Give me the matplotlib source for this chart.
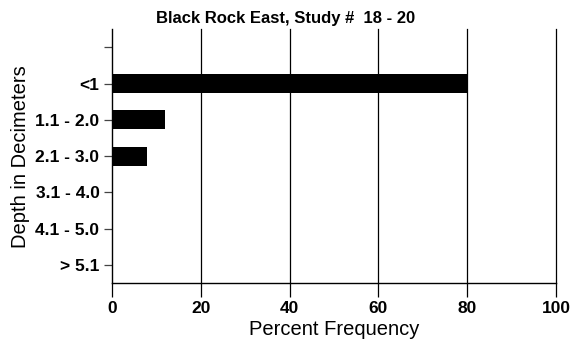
import matplotlib.pyplot as plt

# depth classes, top to bottom
categories = ['', '<1', '1.1 - 2.0', '2.1 - 3.0', '3.1 - 4.0', '4.1 - 5.0', '> 5.1']
percent = [0, 80, 12, 8, 0, 0, 0]
x_ticks = [0, 20, 40, 60, 80, 100]

plt.rcParams['font.family'] = ['Liberation Sans', 'DejaVu Sans']

fig = plt.figure(figsize=(5.71, 3.47), dpi=100)
ax = fig.add_axes([0.196, 0.184, 0.778, 0.732])

pos = list(range(len(categories)))[::-1]
ax.barh(pos, percent, height=0.52, color='black', zorder=3)

ax.set_ylim(-0.5, len(categories) - 0.5)
ax.set_yticks(pos)
ax.set_yticklabels(categories, fontsize=12.5, fontweight='bold')
ax.set_xlim(0, 100)
ax.set_xticks(x_ticks)
ax.set_xticklabels([str(t) for t in x_ticks], fontsize=12.5, fontweight='bold')

# vertical grid lines, the last one sits on the axes edge
for t in x_ticks[1:]:
    ax.axvline(t, color='black', lw=0.9, zorder=1, clip_on=False)

for s in ['top', 'right']:
    ax.spines[s].set_visible(False)
ax.spines['left'].set_linewidth(1.0)
ax.spines['bottom'].set_linewidth(1.0)
ax.tick_params(axis='x', length=10, width=0.9, pad=3)
ax.tick_params(axis='y', length=6, width=0.9, color='#444444', pad=3)

ax.set_xlabel('Percent Frequency', fontsize=14.5, labelpad=3)
ax.set_ylabel('Depth in Decimeters', fontsize=14.5, labelpad=4)
fig.text(0.5, 0.948, 'Black Rock East, Study #  18 - 20', fontsize=12,
         fontweight='bold', ha='center', va='center')

fig.savefig('out.png', dpi=100)
